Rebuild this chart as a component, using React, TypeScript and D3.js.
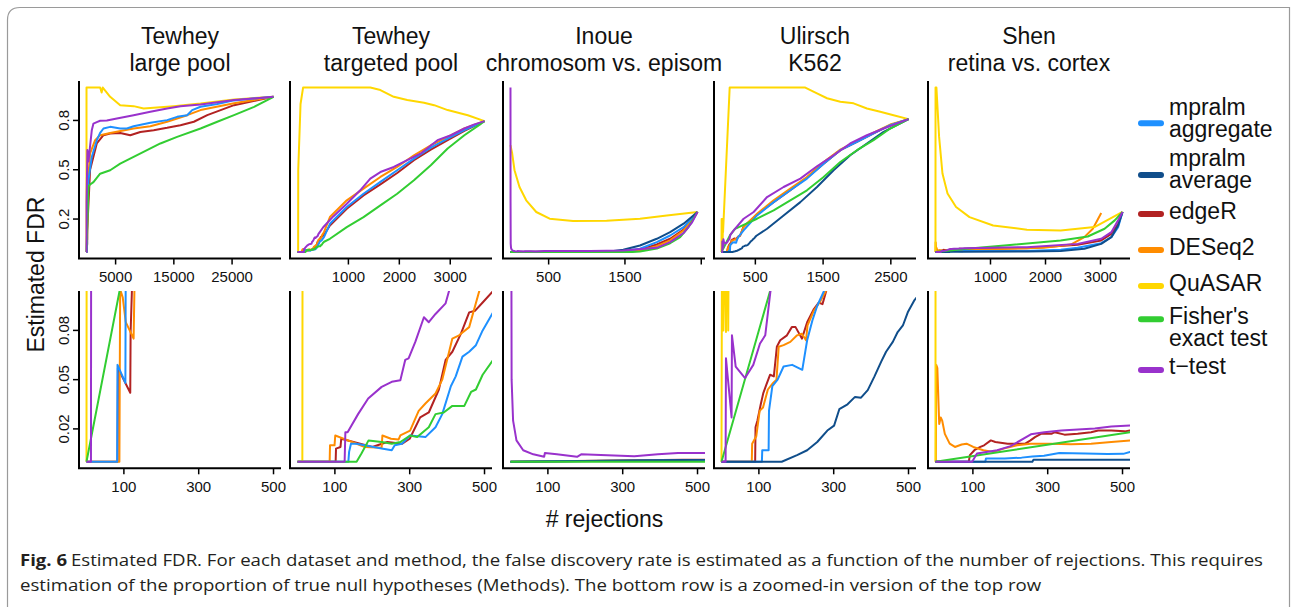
import React, { useLayoutEffect, useRef } from 'react';
import * as d3 from 'd3';

type Pt = [number, number];

const METHODS = ['mpralm\naggregate', 'mpralm\naverage', 'edgeR', 'DESeq2', 'QuASAR', "Fisher's\nexact test", 't\u2212test'];
const COLORS = ['#1E90FF', '#104E8B', '#B22222', '#FF8C00', '#FFD700', '#32CD32', '#9932CC'];
const DATASET_TITLES = [
  ['Tewhey', 'large pool'],
  ['Tewhey', 'targeted pool'],
  ['Inoue', 'chromosom vs. episom'],
  ['Ulirsch', 'K562'],
  ['Shen', 'retina vs. cortex'],
];
const TOP_TICKS = [[5000, 15000, 25000], [1000, 2000, 3000], [500, 1500, 2500], [500, 1500, 2500], [1000, 2000, 3000]];
const TOP_TICK_LABELS = [['5000', '15000', '25000'], ['1000', '2000', '3000'], ['500', '1500', ''], ['500', '1500', '2500'], ['1000', '2000', '3000']];
const BOT_TICKS = [100, 300, 500];
const TOP_YTICKS = [0.2, 0.5, 0.8];
const BOT_YTICKS = [0.02, 0.05, 0.08];

// ---- Tewhey large pool ----
const tl_aggregate: Pt[] = [[0,0],[82,0],[83,0.059],[104,0.048],[106,0.2],[333,0.436],[908,0.578],[1770,0.68],[2345,0.724],[2920,0.751],[4069,0.761],[5793,0.751],[6943,0.751],[8092,0.765],[10966,0.786],[13839,0.802],[15563,0.822],[17287,0.832],[18149,0.863],[19586,0.883],[22460,0.9],[25333,0.922],[28207,0.932],[32115,0.944]];
const tl_average: Pt[] = [];
const tl_edgeR: Pt[] = [[0,0],[83,0],[84,0.057],[117,0.042],[118,0.079],[125,0.13],[621,0.5],[1770,0.66],[2920,0.71],[4069,0.721],[5793,0.724],[7517,0.71],[9241,0.73],[11540,0.741],[13839,0.755],[16138,0.771],[18437,0.792],[20736,0.832],[25333,0.893],[32115,0.944]];
const tl_deseq2: Pt[] = [[0,0],[88,0],[90,0.105],[97,0.1],[105,0.085],[126,0.075],[130,0.13],[300,0.45],[621,0.6],[1483,0.68],[2345,0.71],[4069,0.724],[8092,0.751],[10966,0.765],[13839,0.792],[17287,0.832],[19586,0.863],[25333,0.905],[32115,0.944]];
const tl_quasar: Pt[] = [[0,0],[2,0.63],[4,1.0],[2345,1.0],[2600,0.97],[2800,1.0],[4069,0.944],[5793,0.893],[8092,0.887],[9816,0.873],[12115,0.879],[14989,0.887],[19586,0.903],[25333,0.928],[32115,0.944]];
const tl_fisher: Pt[] = [[0,0],[340,0.4],[621,0.41],[1195,0.425],[2345,0.476],[4069,0.497],[5793,0.537],[8092,0.578],[10391,0.619],[12690,0.66],[15563,0.7],[19586,0.751],[22460,0.792],[25333,0.832],[28782,0.883],[32115,0.944]];
const tl_ttest: Pt[] = [[0,0],[12,0],[13,0.3],[161,0.62],[333,0.55],[908,0.74],[1195,0.781],[1770,0.79],[2345,0.798],[3494,0.8],[5218,0.812],[8092,0.832],[10966,0.853],[13839,0.873],[16138,0.887],[19586,0.897],[25333,0.924],[32115,0.944]];

// ---- Tewhey targeted pool ----
const tt_aggregate: Pt[] = [[0,0],[136,0],[138,0.006],[143,0.011],[158,0.011],[225,0.008],[252,0.007],[260,0.01],[279,0.011],[301,0.016],[342,0.015],[369,0.021],[387,0.029],[410,0.046],[423,0.052],[441,0.064],[459,0.067],[477,0.071],[495,0.08],[523,0.091],[637,0.171],[968,0.273],[1297,0.354],[1628,0.426],[1958,0.497],[2287,0.568],[2618,0.635],[2949,0.69],[3277,0.741],[3673,0.796]];
const tt_average: Pt[] = [];
const tt_edgeR: Pt[] = [[0,0],[102,0],[103,0.008],[115,0.009],[117,0.014],[150,0.012],[200,0.009],[240,0.012],[280,0.011],[300,0.014],[328,0.027],[351,0.03],[378,0.044],[396,0.062],[414,0.067],[437,0.078],[459,0.091],[475,0.092],[495,0.097],[523,0.104],[637,0.161],[968,0.263],[1297,0.344],[1628,0.411],[1958,0.48],[2287,0.558],[2618,0.623],[2949,0.68],[3277,0.737],[3673,0.796]];
const tt_deseq2: Pt[] = [[0,0],[86,0],[87,0.01],[99,0.01],[101,0.016],[135,0.013],[180,0.009],[225,0.0085],[227,0.016],[250,0.014],[270,0.0135],[275,0.016],[301,0.019],[324,0.031],[342,0.0355],[369,0.0416],[387,0.05],[414,0.075],[432,0.077],[459,0.082],[486,0.104],[520,0.12],[637,0.212],[968,0.314],[1297,0.385],[1628,0.456],[1958,0.517],[2287,0.588],[2618,0.649],[2949,0.7],[3277,0.751],[3673,0.796]];
const tt_quasar: Pt[] = [[0,0],[13,0],[15,0.5],[60,0.9],[110,1.0],[1430,1.0],[1628,0.985],[1891,0.944],[2156,0.924],[2485,0.908],[2684,0.893],[2949,0.863],[3345,0.832],[3673,0.796]];
const tt_fisher: Pt[] = [[0,0],[158,0],[171,0.005],[190,0.013],[225,0.012],[252,0.011],[275,0.012],[301,0.016],[320,0.015],[351,0.021],[369,0.029],[391,0.03],[414,0.034],[446,0.034],[464,0.0425],[477,0.044],[495,0.053],[523,0.062],[637,0.08],[968,0.151],[1297,0.212],[1628,0.283],[1958,0.354],[2287,0.436],[2618,0.527],[2949,0.629],[3277,0.71],[3608,0.781],[3673,0.796]];
const tt_ttest: Pt[] = [[0,0],[126,0],[128,0.018],[134,0.018],[162,0.029],[189,0.0385],[225,0.0456],[252,0.0487],[275,0.0497],[288,0.062],[297,0.063],[315,0.073],[338,0.088],[351,0.085],[369,0.09],[396,0.0965],[410,0.108],[505,0.15],[703,0.216],[968,0.293],[1232,0.375],[1430,0.446],[1628,0.486],[1891,0.517],[2156,0.558],[2420,0.599],[2750,0.68],[3014,0.71],[3277,0.751],[3475,0.776],[3673,0.796]];

// ---- Inoue chromosomal vs episomal ----
const in_aggregate: Pt[] = [[0,0],[1400,0.003],[1697,0.019],[1917,0.06],[2092,0.1],[2268,0.151],[2451,0.243]];
const in_average: Pt[] = [[0,0],[1300,0.003],[1478,0.013],[1697,0.039],[1917,0.08],[2092,0.12],[2268,0.172],[2451,0.243]];
const in_edgeR: Pt[] = [[0,0],[1500,0.004],[1697,0.013],[1917,0.045],[2092,0.08],[2268,0.136],[2451,0.243]];
const in_deseq2: Pt[] = [[0,0],[1500,0.003],[1697,0.009],[1917,0.035],[2092,0.07],[2268,0.13],[2451,0.243]];
const in_quasar: Pt[] = [[0,0.65],[22,0.6],[53,0.497],[118,0.395],[206,0.314],[338,0.243],[513,0.202],[820,0.188],[1259,0.19],[1697,0.202],[2049,0.222],[2451,0.243]];
const in_fisher: Pt[] = [[0,0],[1600,0],[1697,0.002],[1917,0.02],[2092,0.053],[2224,0.09],[2333,0.151],[2451,0.243]];
const in_ttest: Pt[] = [[0,1.0],[1,0.3],[3,0.05],[7,0.025],[16,0.013],[34,0.007],[61,0.0045],[90,0.003],[92,0.0053],[124,0.0045],[178,0.003],[189,0.0045],[259,0.004],[331,0.0033],[394,0.0045],[448,0.0053],[520,0.0053],[1039,0.006],[1478,0.008],[1917,0.025],[2092,0.06],[2268,0.115],[2380,0.18],[2451,0.243]];

// ---- Ulirsch K562 ----
const ul_aggregate: Pt[] = [[0,0],[108,0],[109,0.007],[126,0.007],[127,0.031],[136,0.046],[150,0.05],[166,0.058],[189,0.059],[216,0.056],[229,0.074],[243,0.086],[256,0.095],[274,0.104],[327,0.131],[525,0.222],[770,0.303],[1016,0.375],[1262,0.446],[1508,0.537],[1754,0.619],[2000,0.67],[2245,0.721],[2491,0.771],[2761,0.808]];
const ul_average: Pt[] = [[0,0],[161,0],[202,0.004],[229,0.007],[256,0.012],[283,0.019],[301,0.022],[315,0.032],[337,0.035],[357,0.0395],[373,0.039],[391,0.0436],[409,0.052],[427,0.061],[440,0.067],[458,0.073],[471,0.079],[485,0.083],[498,0.091],[516,0.0985],[673,0.141],[917,0.222],[1164,0.303],[1410,0.395],[1655,0.497],[1900,0.588],[2147,0.66],[2393,0.731],[2761,0.808]];
const ul_edgeR: Pt[] = [[0,0],[90,0],[91,0.021],[96,0.025],[105,0.035],[112,0.042],[120,0.047],[130,0.053],[140,0.052],[148,0.07],[157,0.074],[175,0.077],[188,0.082],[198,0.082],[215,0.075],[229,0.085],[247,0.093],[260,0.097],[270,0.096],[280,0.104],[327,0.155],[525,0.228],[770,0.303],[1016,0.375],[1262,0.452],[1508,0.537],[1754,0.619],[2000,0.67],[2245,0.721],[2491,0.771],[2761,0.808]];
const ul_deseq2: Pt[] = [[0,0],[81,0],[82,0.011],[93,0.0155],[102,0.031],[111,0.033],[124,0.044],[138,0.048],[147,0.05],[153,0.07],[166,0.071],[184,0.073],[202,0.077],[215,0.078],[226,0.074],[230,0.083],[247,0.092],[265,0.098],[279,0.104],[327,0.151],[525,0.232],[770,0.314],[1016,0.385],[1262,0.456],[1508,0.547],[1754,0.623],[2000,0.676],[2245,0.725],[2491,0.775],[2761,0.808]];
const ul_quasar: Pt[] = [[0,0],[2,0.2],[5,0.08],[8,0.15],[12,0.079],[15,0.2],[18,0.08],[21,0.2],[23,0.12],[121,1.0],[1237,1.0],[1410,0.965],[1558,0.935],[1754,0.914],[1950,0.904],[2147,0.873],[2344,0.853],[2540,0.832],[2761,0.808]];
const ul_fisher: Pt[] = [[0,0],[130,0.104],[200,0.14],[327,0.165],[525,0.202],[770,0.253],[1016,0.314],[1262,0.375],[1508,0.456],[1754,0.547],[2000,0.619],[2245,0.68],[2491,0.751],[2761,0.808]];
const ul_ttest: Pt[] = [[0,0],[11,0],[12,0.063],[27,0.027],[28,0.077],[38,0.058],[63,0.051],[85,0.059],[103,0.072],[117,0.077],[131,0.104],[180,0.131],[327,0.202],[475,0.243],[673,0.334],[917,0.395],[1164,0.446],[1410,0.521],[1655,0.588],[1900,0.66],[2147,0.71],[2393,0.751],[2761,0.808]];

// ---- Shen retina vs cortex ----
const sh_aggregate: Pt[] = [[0,0],[133,0],[135,0.002],[185,0.002],[230,0.0025],[259,0.0032],[290,0.0037],[331,0.0053],[400,0.005],[460,0.0047],[502,0.0048],[520,0.006],[1000,0.005],[1663,0.006],[2276,0.013],[2584,0.025],[3013,0.053],[3197,0.09],[3320,0.15],[3400,0.243]];
const sh_average: Pt[] = [[0,0],[259,0],[262,0.0012],[520,0.0012],[1663,0.003],[2276,0.005],[2706,0.019],[3013,0.049],[3197,0.09],[3320,0.161],[3400,0.243]];
const sh_edgeR: Pt[] = [[0,0],[89,0],[92,0.004],[104,0.007],[120,0.009],[130,0.01],[148,0.013],[160,0.012],[193,0.011],[240,0.011],[254,0.013],[266,0.015],[282,0.017],[310,0.017],[319,0.018],[345,0.0165],[380,0.017],[416,0.018],[435,0.019],[470,0.019],[506,0.0185],[520,0.019],[1663,0.023],[2584,0.043],[3013,0.07],[3197,0.11],[3320,0.17],[3400,0.243]];
const sh_deseq2: Pt[] = [[0,0],[1,0],[2,0.059],[5,0.057],[10,0.023],[14,0.027],[18,0.025],[25,0.017],[38,0.011],[52,0.009],[70,0.0105],[83,0.011],[101,0.009],[128,0.007],[155,0.006],[182,0.008],[218,0.01],[254,0.011],[308,0.011],[362,0.0107],[416,0.011],[470,0.012],[520,0.013],[742,0.013],[1355,0.02],[1969,0.025],[2460,0.045],[2706,0.09],[2860,0.141],[3013,0.237]];
const sh_quasar: Pt[] = [[0,0],[1,1.0],[17,1.0],[66,0.7],[127,0.477],[219,0.355],[374,0.273],[619,0.212],[1048,0.161],[1663,0.135],[2276,0.131],[2890,0.151],[3400,0.243]];
const sh_fisher: Pt[] = [[0,0],[520,0.018],[1355,0.042],[2276,0.07],[2768,0.094],[3074,0.141],[3258,0.192],[3400,0.243]];
const sh_ttest: Pt[] = [[0,0],[98,0],[111,0.005],[165,0.007],[201,0.0095],[255,0.0167],[291,0.018],[336,0.019],[381,0.0196],[426,0.0202],[470,0.0215],[520,0.022],[1663,0.029],[2584,0.049],[3013,0.08],[3197,0.12],[3320,0.192],[3400,0.243]];

const SERIES: Pt[][][] = [
  [tl_aggregate, tl_average, tl_edgeR, tl_deseq2, tl_quasar, tl_fisher, tl_ttest],
  [tt_aggregate, tt_average, tt_edgeR, tt_deseq2, tt_quasar, tt_fisher, tt_ttest],
  [in_aggregate, in_average, in_edgeR, in_deseq2, in_quasar, in_fisher, in_ttest],
  [ul_aggregate, ul_average, ul_edgeR, ul_deseq2, ul_quasar, ul_fisher, ul_ttest],
  [sh_aggregate, sh_average, sh_edgeR, sh_deseq2, sh_quasar, sh_fisher, sh_ttest],
];

// drawing order (later on top)
const DRAW_ORDER = [2, 3, 4, 0, 1, 5, 6];

const WIDTH = 1292;
const HEIGHT = 607;
const PANEL_LEFT = [79, 290, 503, 714, 928];
const PANEL_W = 202;
const TOP_RANGE: [number, number] = [258.5, 81];
const BOT_RANGE: [number, number] = [468.3, 291];
const FONT = "'Liberation Sans', Arial, Helvetica, sans-serif";
const CAPTION_FONT = "'Open Sans', sans-serif";
const CAPTION_1 = 'Estimated FDR. For each dataset and method, the false discovery rate is estimated as a function of the number of rejections. This requires';
const CAPTION_2 = 'estimation of the proportion of true null hypotheses (Methods). The bottom row is a zoomed-in version of the top row';

const pad4 = (lo: number, hi: number): [number, number] => {
  const d = (hi - lo) * 0.04;
  return [lo - d, hi + d];
};

function Panel({ idx, row }: { idx: number; row: 'top' | 'bot' }) {
  const L = PANEL_LEFT[idx];
  const series = SERIES[idx];
  const maxX = d3.max(series.flatMap((s) => s.map((p) => p[0]))) as number;
  const x = d3.scaleLinear().domain(row === 'top' ? pad4(0, maxX) : pad4(0, 500)).range([L, L + PANEL_W]);
  const y = d3.scaleLinear().domain(row === 'top' ? pad4(0, 1) : pad4(0, 0.1)).range(row === 'top' ? TOP_RANGE : BOT_RANGE);
  const [yb, yt] = y.range();
  const line = d3.line<Pt>().x((d) => x(d[0])).y((d) => y(d[1]));
  const clipId = `clip-${row}-${idx}`;
  const ticks = row === 'top' ? TOP_TICKS[idx] : BOT_TICKS;
  const labels = row === 'top' ? TOP_TICK_LABELS[idx] : BOT_TICKS.map(String);
  const yticks = row === 'top' ? TOP_YTICKS : BOT_YTICKS;
  return (
    <g>
      <defs>
        <clipPath id={clipId}>
          <rect x={L} y={yt} width={PANEL_W} height={yb - yt} />
        </clipPath>
      </defs>
      <g clipPath={`url(#${clipId})`}>
        {DRAW_ORDER.map((m) =>
          series[m].length ? (
            <path key={m} d={line(series[m]) || ''} fill="none" stroke={COLORS[m]} strokeWidth={2} strokeLinejoin="round" />
          ) : null
        )}
      </g>
      <line x1={L} x2={L} y1={yt} y2={yb} stroke="#000" strokeWidth={2} />
      <line x1={L - 1} x2={L + PANEL_W} y1={yb} y2={yb} stroke="#000" strokeWidth={2} />
      {ticks.map((t, i) => (
        <g key={t}>
          <line x1={x(t)} x2={x(t)} y1={yb} y2={yb + 6} stroke="#000" strokeWidth={1.5} />
          {labels[i] ? (
            <text x={x(t)} y={yb + 23.5} textAnchor="middle" fontSize={15} fontFamily={FONT} fill="#111">
              {labels[i]}
            </text>
          ) : null}
        </g>
      ))}
      {idx === 0 &&
        yticks.map((t) => (
          <g key={t}>
            <line x1={L} x2={L - 6} y1={y(t)} y2={y(t)} stroke="#000" strokeWidth={1.5} />
            <text
              transform={`translate(${L - 10.5},${y(t)}) rotate(-90)`}
              textAnchor="middle"
              fontSize={15}
              fontFamily={FONT}
              fill="#111"
            >
              {String(t)}
            </text>
          </g>
        ))}
    </g>
  );
}

export default function App() {
  const legendRows = [
    { sw: 123.3, base: 115 },
    { sw: 175, base: 166 },
    { sw: 214, base: 218.5 },
    { sw: 250, base: 255 },
    { sw: 286, base: 290.7 },
    { sw: 319.3, base: 324.3 },
    { sw: 370, base: 374 },
  ];
  const cap1 = useRef<SVGTextElement>(null);
  const cap2 = useRef<SVGTextElement>(null);
  useLayoutEffect(() => {
    const a = cap1.current;
    const b = cap2.current;
    if (!a || !b) return;
    const n1 = a.getComputedTextLength();
    const n2 = b.getComputedTextLength();
    const s = (1263 - 71) / n1;
    a.setAttribute('textLength', String(n1 * s));
    a.setAttribute('lengthAdjust', 'spacingAndGlyphs');
    b.setAttribute('textLength', String(n2 * s));
    b.setAttribute('lengthAdjust', 'spacingAndGlyphs');
  }, []);
  return (
    <div style={{ position: 'absolute', left: 0, top: 0, width: WIDTH, height: HEIGHT, background: '#fff' }}>
      <svg width={WIDTH} height={HEIGHT} style={{ display: 'block' }}>
        <rect x={0} y={0} width={WIDTH} height={HEIGHT} fill="#fff" />
        <path d={`M7.5,${HEIGHT} V20 Q7.5,7.5 20,7.5 H1289.5 V${HEIGHT}`} fill="none" stroke="#9a9a9a" strokeWidth={1.2} />
        {DATASET_TITLES.map((t, i) => (
          <text key={i} textAnchor="middle" fontSize={23} fontFamily={FONT} fill="#111">
            <tspan x={PANEL_LEFT[i] + PANEL_W / 2} y={43.5}>{t[0]}</tspan>
            <tspan x={PANEL_LEFT[i] + PANEL_W / 2} y={71}>{t[1]}</tspan>
          </text>
        ))}
        {[0, 1, 2, 3, 4].map((i) => (
          <Panel key={'t' + i} idx={i} row="top" />
        ))}
        {[0, 1, 2, 3, 4].map((i) => (
          <Panel key={'b' + i} idx={i} row="bot" />
        ))}
        <text transform="translate(43.5,274.6) rotate(-90)" textAnchor="middle" fontSize={23} fontFamily={FONT} fill="#111">
          Estimated FDR
        </text>
        <text x={604.5} y={527} textAnchor="middle" fontSize={23} fontFamily={FONT} fill="#111">
          # rejections
        </text>
        {legendRows.map((r, i) => (
          <g key={i}>
            <line x1={1141} x2={1161} y1={r.sw} y2={r.sw} stroke={COLORS[i]} strokeWidth={6} strokeLinecap="round" />
            <text fontSize={23} fontFamily={FONT} fill="#111">
              {METHODS[i].split('\n').map((s, j) => (
                <tspan key={j} x={1169} y={r.base + j * 21.7}>
                  {s}
                </tspan>
              ))}
            </text>
          </g>
        ))}
        <text x={20} y={566} fontSize={16} fontWeight="bold" fontFamily={CAPTION_FONT} fill="#231f20" textLength={47} lengthAdjust="spacingAndGlyphs">
          Fig. 6
        </text>
        <text ref={cap1} x={71} y={566} fontSize={16} fontFamily={CAPTION_FONT} fill="#231f20">
          {CAPTION_1}
        </text>
        <text ref={cap2} x={20} y={591} fontSize={16} fontFamily={CAPTION_FONT} fill="#231f20">
          {CAPTION_2}
        </text>
      </svg>
    </div>
  );
}
